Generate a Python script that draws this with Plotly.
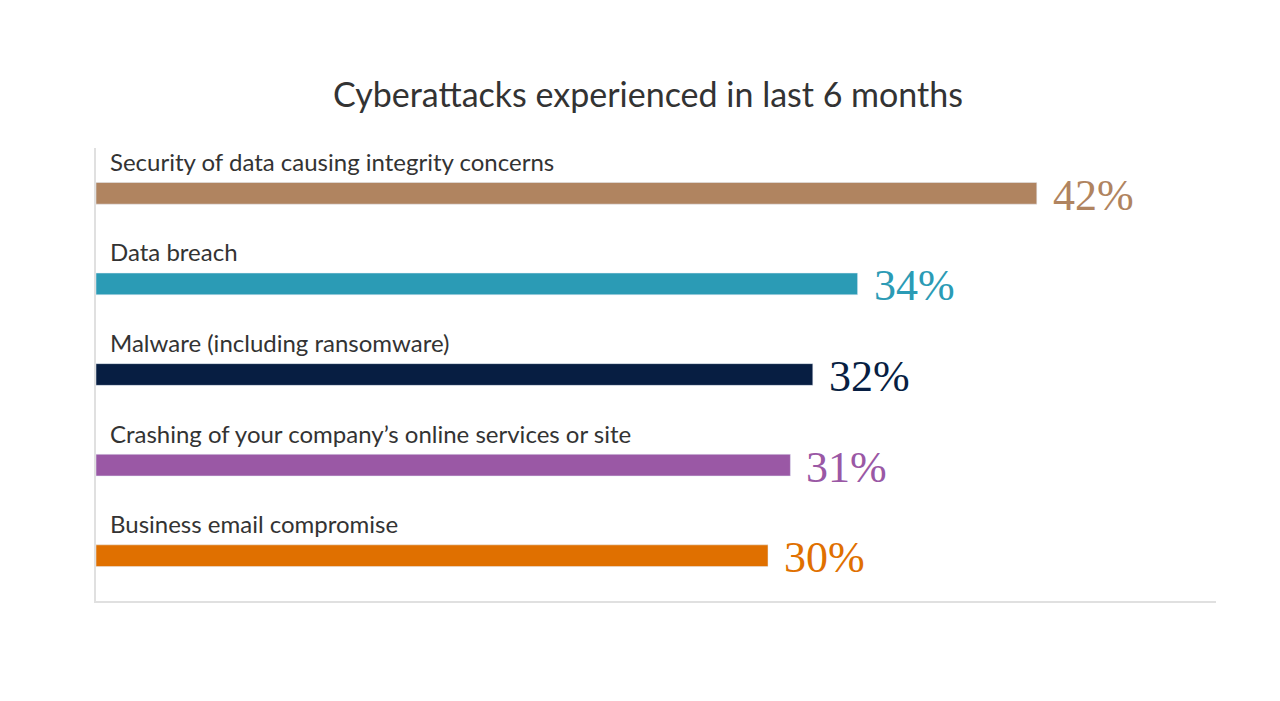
import plotly.graph_objects as go

categories = ["Security of data causing integrity concerns", "Data breach",
              "Malware (including ransomware)", "Crashing of your company’s online services or site",
              "Business email compromise"]
values = [42, 34, 32, 31, 30]
colors = ["#B08460", "#2B9BB5", "#071E42", "#9A58A5", "#E07000"]

ypos = [4, 3, 2, 1, 0]
fig = go.Figure(go.Bar(x=values, y=ypos, orientation="h", marker_color=colors,
                       width=0.24, hoverinfo="skip"))
for c, v, y, col in zip(categories, values, ypos, colors):
    fig.add_annotation(x=0, y=y, yshift=32, text=c, showarrow=False, xanchor="left",
                       xshift=12, font=dict(family="Lato", size=24, color="#333333"))
    fig.add_annotation(x=v, y=y, text=f"{v}%", showarrow=False, xanchor="left", xshift=14,
                       yshift=-2, font=dict(family="Liberation Serif", size=44, color=col))
fig.update_layout(
    width=1280, height=701, plot_bgcolor="white", paper_bgcolor="white",
    margin=dict(l=88, r=72, t=140, b=108), showlegend=False,
    title=dict(text="Cyberattacks experienced in last 6 months", x=0.5, xanchor="center",
               y=1 - 87/701, yanchor="middle", font=dict(family="Lato", size=34, color="#333333")),
    xaxis=dict(range=[0, 50], showgrid=False, showticklabels=False, zeroline=False,
               showline=True, linecolor="#E0E0E0", linewidth=2, ticks=""),
    yaxis=dict(range=[-0.5, 4.5], showgrid=False, showticklabels=False, zeroline=False,
               showline=True, linecolor="#E0E0E0", linewidth=2, ticks=""),
)
fig.write_html("out.html")
